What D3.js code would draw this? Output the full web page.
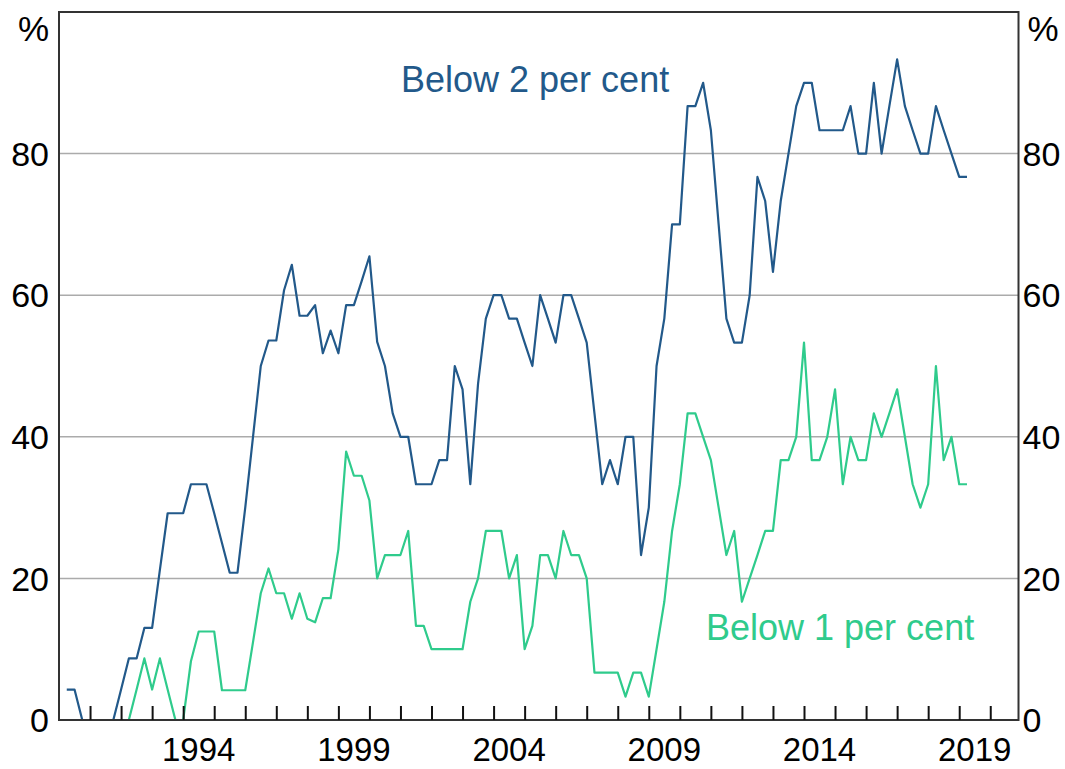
<!DOCTYPE html>
<html>
<head>
<meta charset="utf-8">
<script src="https://cdn.jsdelivr.net/npm/d3@7"></script>
<style>
  html, body { margin: 0; padding: 0; background: #fff; }
  svg text { font-family: "Liberation Sans", Arial, sans-serif; }
</style>
</head>
<body>
<div id="chart"></div>
<script>
// quarterly observations, first one is 1990 Q2 (plotted at 1990.25)
const firstQuarter = 1990.25

const below2 = [
  4.3, 4.3, 0, 0, 0, 0, 0, 4.3, 8.7, 8.7, 13.0, 13.0, 21.2, 29.2, 29.2, 29.2,
  33.3, 33.3, 33.3, 29.2, 25.0, 20.8, 20.8, 30.0, 40.0, 50.0, 53.6, 53.6, 60.7, 64.3, 57.1, 57.1,
  58.6, 51.8, 55.0, 51.8, 58.6, 58.6, 62.0, 65.5, 53.4, 50.0, 43.3, 40.0, 40.0, 33.3, 33.3, 33.3,
  36.7, 36.7, 50.0, 46.7, 33.3, 47.5, 56.7, 60.0, 60.0, 56.7, 56.7, 53.3, 50.0, 60.0, 56.7, 53.3,
  60.0, 60.0, 56.7, 53.3, 43.3, 33.3, 36.7, 33.3, 40.0, 40.0, 23.3, 30.0, 50.0, 56.7, 70.0, 70.0,
  86.7, 86.7, 90.0, 83.3, 70.0, 56.7, 53.3, 53.3, 60.0, 76.7, 73.3, 63.3, 73.3, 80.0, 86.7, 90.0,
  90.0, 83.3, 83.3, 83.3, 83.3, 86.7, 80.0, 80.0, 90.0, 80.0, 86.7, 93.3, 86.7, 83.3, 80.0, 80.0,
  86.7, 83.3, 80.0, 76.7, 76.7
]

const below1 = [
  0, 0, 0, 0, 0, 0, 0, 0, 0, 4.3, 8.7, 4.3, 8.7, 4.3, 0, 0,
  8.3, 12.5, 12.5, 12.5, 4.2, 4.2, 4.2, 4.2, 11.0, 17.9, 21.4, 17.9, 17.9, 14.3, 17.9, 14.3,
  13.8, 17.2, 17.2, 24.1, 37.9, 34.5, 34.5, 31.0, 20.0, 23.3, 23.3, 23.3, 26.7, 13.3, 13.3, 10.0,
  10.0, 10.0, 10.0, 10.0, 16.7, 20.0, 26.7, 26.7, 26.7, 20.0, 23.3, 10.0, 13.3, 23.3, 23.3, 20.0,
  26.7, 23.3, 23.3, 20.0, 6.7, 6.7, 6.7, 6.7, 3.3, 6.7, 6.7, 3.3, 10.0, 16.7, 26.7, 33.3,
  43.3, 43.3, 40.0, 36.7, 30.0, 23.3, 26.7, 16.7, 20.0, 23.3, 26.7, 26.7, 36.7, 36.7, 40.0, 53.3,
  36.7, 36.7, 40.0, 46.7, 33.3, 40.0, 36.7, 36.7, 43.3, 40.0, 43.3, 46.7, 40.0, 33.3, 30.0, 33.3,
  50.0, 36.7, 40.0, 33.3, 33.3
]

const yTicks = [0, 20, 40, 60, 80]
const yearLabels = [1994, 1999, 2004, 2009, 2014, 2019]
const yearTicks = d3.range(1991, 2021)

const width = 1065, height = 769
const margin = {top: 12, right: 46.5, bottom: 49, left: 59}

const blue = "#22598a"
const green = "#2fcb8c"

const svg = d3.select("#chart").append("svg")
    .attr("width", width)
    .attr("height", height)

const x = d3.scaleLinear()
    .domain([1990, 2020.91])
    .range([margin.left, width - margin.right])

const y = d3.scaleLinear()
    .domain([0, 100])
    .range([height - margin.bottom, margin.top])

// horizontal grid
svg.append("g")
    .selectAll("line")
    .data(yTicks.filter(d => d > 0))
    .join("line")
    .attr("x1", x.range()[0])
    .attr("x2", x.range()[1])
    .attr("y1", d => y(d))
    .attr("y2", d => y(d))
    .attr("stroke", "#ababab")
    .attr("stroke-width", 1.5)

function toSeries(vals) {
    return vals.map((v, i) => [firstQuarter + i * 0.25, v])
}

const line = d3.line()
    .x(d => x(d[0]))
    .y(d => y(d[1]))

svg.append("path")
    .datum(toSeries(below1))
    .attr("fill", "none")
    .attr("stroke", green)
    .attr("stroke-width", 2.2)
    .attr("stroke-linejoin", "round")
    .attr("d", line)

svg.append("path")
    .datum(toSeries(below2))
    .attr("fill", "none")
    .attr("stroke", blue)
    .attr("stroke-width", 2.2)
    .attr("stroke-linejoin", "round")
    .attr("d", line)

// frame
svg.append("rect")
    .attr("x", x.range()[0])
    .attr("y", y.range()[1])
    .attr("width", x.range()[1] - x.range()[0])
    .attr("height", y.range()[0] - y.range()[1])
    .attr("fill", "none")
    .attr("stroke", "#333")
    .attr("stroke-width", 2)

// year ticks pointing up from the bottom axis
const xAxis = d3.axisBottom(x)
    .tickValues(yearTicks)
    .tickSize(-14)
    .tickFormat("")

svg.append("g")
    .attr("transform", `translate(0,${y(0)})`)
    .call(xAxis)
    .call(g => g.select(".domain").remove())
    .call(g => g.selectAll(".tick line").attr("stroke", "#111").attr("stroke-width", 2))

svg.append("g")
    .selectAll("text")
    .data(yearLabels)
    .join("text")
    .attr("x", d => x(d + 0.5))
    .attr("y", 761)
    .attr("text-anchor", "middle")
    .attr("font-size", 33)
    .attr("fill", "#000")
    .text(d => d)

// y labels both sides
const yLabels = svg.append("g").attr("font-size", 34).attr("fill", "#000")

yLabels.selectAll(".yl")
    .data(yTicks)
    .join("text")
    .attr("class", "yl")
    .attr("x", x.range()[0] - 10)
    .attr("y", d => y(d))
    .attr("dy", "0.36em")
    .attr("text-anchor", "end")
    .text(d => d)

yLabels.selectAll(".yr")
    .data(yTicks)
    .join("text")
    .attr("class", "yr")
    .attr("x", x.range()[1] + 4)
    .attr("y", d => y(d))
    .attr("dy", "0.36em")
    .attr("text-anchor", "start")
    .text(d => d)

yLabels.append("text")
    .attr("x", x.range()[0] - 10)
    .attr("y", 41)
    .attr("text-anchor", "end")
    .attr("font-size", 35)
    .text("%")

yLabels.append("text")
    .attr("x", x.range()[1] + 9)
    .attr("y", 41)
    .attr("text-anchor", "start")
    .attr("font-size", 35)
    .text("%")

// series labels
svg.append("text")
    .attr("x", 401)
    .attr("y", 92)
    .attr("font-size", 36)
    .attr("fill", blue)
    .text("Below 2 per cent")

svg.append("text")
    .attr("x", 706)
    .attr("y", 640)
    .attr("font-size", 36)
    .attr("fill", green)
    .text("Below 1 per cent")
</script>
</body>
</html>
